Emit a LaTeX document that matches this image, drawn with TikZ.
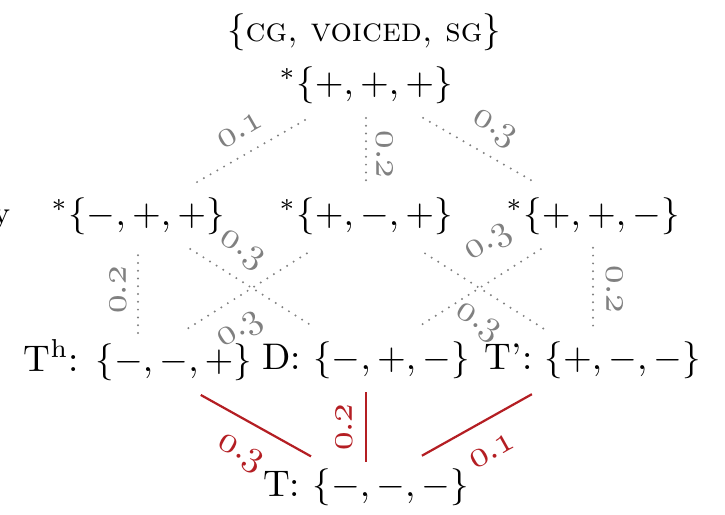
\documentclass[tikz,border=0pt]{standalone}
\usepackage{xcolor}
\definecolor{lgray}{RGB}{128,128,128}
\definecolor{dred}{RGB}{180,30,35}
\newcommand\osn[1]{$\mathnormal{#1}$}
\begin{document}
\begin{tikzpicture}[x=0.27pt,y=-0.27pt,
  every node/.style={inner sep=0pt, font=\fontsize{10}{12}\selectfont},
  dotedge/.style={draw=lgray, line width=0.6pt, line cap=round, dash pattern=on 0pt off 2.1pt},
  rededge/.style={draw=dred, line width=0.6pt},
  lbl/.style={sloped, font=\fontsize{9.8}{11}\selectfont},
  glbl/.style={lbl, text=lgray},
  rlbl/.style={lbl, text=dred},
  up/.style={anchor=south, inner sep=#1},
  dn/.style={anchor=north, inner sep=#1},
]
\useasboundingbox (0,0) rectangle (725,515);
\node[anchor=base east, font=\fontsize{8.5}{10}\selectfont] (yy) at (11,224) {y};
\node (title) at (364,32) {$\{${\fontsize{9.1}{11}\selectfont\textsc{cg, voiced, sg}}$\}$};
\node (t0) at (366,85) {$^*\{+,+,+\}$};
\node (l) at (138,216) {$^*\{-,+,+\}$};
\node (m) at (366,216) {$^*\{+,-,+\}$};
\node (r) at (593,216) {$^*\{+,+,-\}$};
\node (th) at (138,360) {T\textsuperscript{h}: $\{-,-,+\}$};
\node (d) at (366,360) {D: $\{-,+,-\}$};
\node (tp) at (593,360) {T’: $\{+,-,-\}$};
\node (b) at (366,487) {T: $\{-,-,-\}$};

\draw[dotedge, shorten <=18.4pt, shorten >=17.8pt] (l.center) -- node[glbl, pos=0.5, up=3.8pt]{\osn{0.1}} (t0.center);
\draw[dotedge, shorten <=8.9pt, shorten >=7.8pt] (t0.center) -- node[glbl, pos=0.53, up=2.5pt]{\osn{0.2}} (m.center);
\draw[dotedge, shorten <=17.8pt, shorten >=18.1pt] (t0.center) -- node[glbl, pos=0.506, up=3.5pt]{\osn{0.3}} (r.center);
\draw[dotedge, shorten <=7.3pt, shorten >=8.6pt] (th.center) -- node[glbl, pos=0.486, up=3.0pt]{\osn{0.2}} (l.center);
\draw[dotedge, shorten <=16.7pt, shorten >=17.6pt] (l.center) -- node[glbl, pos=0.393, up=3.5pt]{\osn{0.3}} (d.center);
\draw[dotedge, shorten <=16.1pt, shorten >=18.6pt] (th.center) -- node[glbl, pos=0.38, dn=4.9pt]{\osn{0.3}} (m.center);
\draw[dotedge, shorten <=18.9pt, shorten >=15.7pt] (m.center) -- node[glbl, pos=0.563, dn=4.9pt]{\osn{0.3}} (tp.center);
\draw[dotedge, shorten <=18.1pt, shorten >=16.2pt] (d.center) -- node[glbl, pos=0.619, up=5.2pt]{\osn{0.3}} (r.center);
\draw[dotedge, shorten <=8.6pt, shorten >=7.6pt] (r.center) -- node[glbl, pos=0.51, up=3.3pt]{\osn{0.2}} (tp.center);

\draw[rededge, shorten <=19.4pt, shorten >=17pt] (th.center) -- node[rlbl, pos=0.516, dn=5.4pt]{\osn{0.3}} (b.center);
\draw[rededge, shorten <=6.75pt, shorten >=8.6pt] (b.center) -- node[rlbl, pos=0.47, up=3.5pt]{\osn{0.2}} (d.center);
\draw[rededge, shorten <=17.3pt, shorten >=18.9pt] (b.center) -- node[rlbl, pos=0.492, dn=5.7pt]{\osn{0.1}} (tp.center);
\end{tikzpicture}
\end{document}
